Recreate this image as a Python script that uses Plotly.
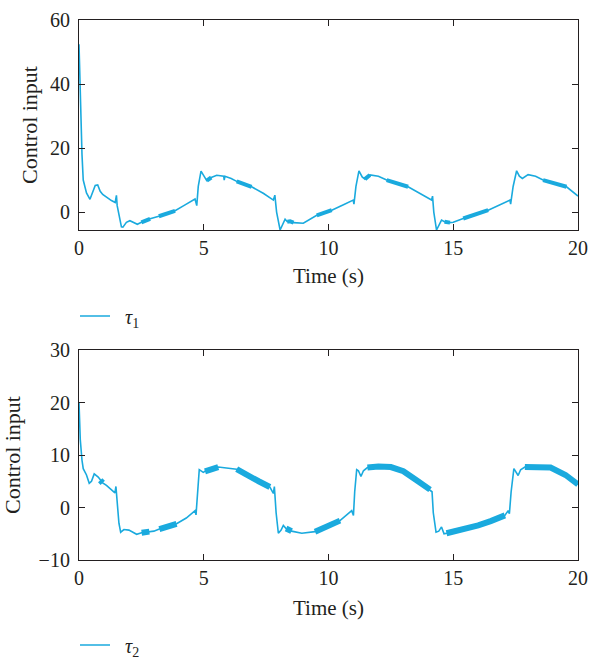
import plotly.graph_objects as go

# ---- data: tau_1 ----
t1 = [0, 0.05, 0.12, 0.17, 0.3, 0.44, 0.55, 0.65, 0.75, 0.85, 0.95, 1.1, 1.3, 1.45, 1.5, 1.53, 1.62, 1.7,
      1.76, 1.9, 2.04, 2.2, 2.34, 2.5, 2.85, 3.2, 3.85, 4.2, 4.65, 4.72, 4.78, 4.89, 5.0, 5.12, 5.3, 5.52,
      5.8, 5.82, 5.85, 6.1, 6.32, 6.92, 7.4, 7.79, 7.85, 7.92, 8.06, 8.18, 8.26, 8.35, 8.46, 8.6, 8.99,
      9.53, 10.13, 10.6, 10.99, 11.02, 11.1, 11.22, 11.35, 11.46, 11.6, 11.66, 12.0, 12.33, 13.19, 13.7,
      14.13, 14.17, 14.22, 14.33, 14.45, 14.53, 14.65, 14.87, 15.0, 15.4, 16.4, 16.9, 17.27, 17.3, 17.4,
      17.54, 17.65, 17.77, 18.0, 18.3, 18.6, 19.54, 20.0]
u1 = [52.4, 35, 18, 10, 6, 4, 6, 8.3, 8.5, 6.5, 5.5, 4.6, 3.6, 3.0, 5.2, 2, -2, -4.6,
      -4.7, -3.2, -2.7, -3.3, -3.8, -3.2, -2.1, -1.3, 0.4, 2.0, 4.1, 2.0, 8, 12.8, 11.5, 9.8, 10.8, 11.5,
      11.2, 10.0, 11.2, 10.5, 9.6, 7.9, 5.8, 3.75, 5.3, 0, -5.6, -3.5, -2.2, -3.0, -2.9, -3.3, -3.5,
      -1.0, 0.6, 2.3, 3.75, 2.5, 8, 12.9, 11, 10.3, 11.4, 11.6, 11.2, 10.0, 7.9, 5.6,
      3.75, 5.0, 0, -5.6, -3.5, -2.5, -3.0, -3.3, -3.2, -2.0, 0.6, 2.4, 3.75, 2.5, 8,
      12.9, 11.2, 10.5, 11.7, 11.2, 10.0, 7.9, 5.0]
# chattering intervals of tau_1 (s)
bands1 = [(2.5, 2.85), (3.2, 3.85), (5.12, 5.3), (6.32, 6.92), (8.35, 8.6), (9.53, 10.13),
          (11.46, 11.66), (12.33, 13.19), (14.65, 14.87), (15.4, 16.4), (18.6, 19.54)]

# ---- data: tau_2 ----
t2 = [0, 0.05, 0.12, 0.17, 0.3, 0.41, 0.5, 0.61, 0.77, 0.85, 0.91, 0.95, 1.1, 1.3, 1.44, 1.48, 1.52, 1.6,
      1.67, 1.8, 2.0, 2.31, 2.51, 2.82, 3.0, 3.22, 3.91, 4.3, 4.65, 4.69, 4.75, 4.82, 4.98, 5.05, 5.58,
      5.76, 6.32, 6.8, 7.2, 7.65, 7.79, 7.83, 7.9, 7.99, 8.1, 8.19, 8.3, 8.52, 8.93, 9.46, 10.0, 10.46,
      10.93, 11.0, 11.05, 11.13, 11.2, 11.3, 11.4, 11.56, 12.0, 12.5, 13.0, 13.5, 14.07, 14.15, 14.2,
      14.31, 14.42, 14.53, 14.63, 14.73, 15.0, 15.5, 16.0, 16.5, 17.07, 17.2, 17.25, 17.32, 17.43, 17.52,
      17.6, 17.7, 17.87, 18.5, 18.9, 19.5, 20.0]
u2 = [20, 13, 9, 7.4, 6.2, 4.6, 5.0, 6.4, 5.8, 5.2, 4.8, 4.7, 4.2, 3.3, 2.8, 4.0, 1, -3,
      -4.7, -4.2, -4.3, -5.1, -4.8, -4.6, -4.5, -4.1, -3.1, -2.0, -0.6, -1.4, 3, 7.2, 6.7, 6.9, 7.7,
      7.6, 7.3, 6.2, 5.0, 3.9, 2.7, 4.0, -1, -4.9, -4.3, -3.4, -4.0, -4.5, -4.9, -4.6, -3.6, -2.5,
      -0.6, -1.5, 3, 7.2, 7.0, 5.9, 7.0, 7.6, 7.8, 7.7, 6.9, 5.3, 3.4, 3.0, -1,
      -4.7, -4.5, -3.7, -5.0, -4.9, -4.6, -4.2, -3.4, -2.6, -1.5, -0.6, -1.2, 3, 7.4, 6.8,
      6.1, 7.2, 7.7, 7.8, 7.6, 6.2, 4.4]
bands2 = [(0.85, 0.95), (2.51, 2.82), (3.22, 3.91), (5.05, 5.58), (6.32, 7.65), (8.3, 8.52),
          (9.46, 10.46), (11.56, 14.07), (14.73, 17.07), (17.87, 20.0)]

x_ticks = [0, 5, 10, 15, 20]
y1_ticks = [0, 20, 40, 60]
y2_ticks = [-10, 0, 10, 20, 30]

COLOR = "#1aaade"
FONT = "Liberation Serif"
AX = "#231f20"

fig = go.Figure()


def add_series(t, u, bands, xa, ya, name, legend, bw):
    fig.add_trace(go.Scatter(x=t, y=u, mode="lines", line=dict(color=COLOR, width=1.6),
                             name=name, xaxis=xa, yaxis=ya, legend=legend, showlegend=True))
    for (a, b) in bands:
        bt = [tt for tt in t if a <= tt <= b]
        bu = [uu for tt, uu in zip(t, u) if a <= tt <= b]
        fig.add_trace(go.Scatter(x=bt, y=bu, mode="lines", line=dict(color=COLOR, width=bw),
                                 xaxis=xa, yaxis=ya, showlegend=False, hoverinfo="skip"))


add_series(t1, u1, bands1, "x", "y", "\u2002<i>τ</i><sub>1</sub>", "legend", 4)
add_series(t2, u2, bands2, "x2", "y2", "\u2002<i>τ</i><sub>2</sub>", "legend2", 6)

W, H = 589, 661


def px_x(p):
    return p / W


def px_y(p):
    return (H - p) / H


xd = [px_x(79), px_x(578)]
axis_common = dict(showline=True, linecolor=AX, linewidth=1.2, mirror="ticks", ticks="inside",
                   ticklen=6, tickcolor=AX, tickwidth=1.2, showgrid=False, zeroline=False,
                   automargin=False, ticklabeloverflow="allow",
                   tickfont=dict(family=FONT, size=20, color=AX))
xfont = dict(family=FONT, size=21, color=AX)
yfont = dict(family=FONT, size=22, color=AX)

fig.update_layout(
    width=W, height=H, margin=dict(l=0, r=0, t=0, b=0, autoexpand=False),
    paper_bgcolor="white", plot_bgcolor="white",
    font=dict(family=FONT, size=19, color=AX),
    xaxis=dict(domain=xd, range=[0, 20], tickvals=x_ticks, anchor="y", ticklabelstandoff=0,
               title=dict(text="Time (s)", standoff=10, font=xfont), **axis_common),
    yaxis=dict(domain=[px_y(230), px_y(20)], range=[-5.6, 60], tickvals=y1_ticks, anchor="x",
               ticklabelstandoff=4,
               title=dict(text="Control input", standoff=6, font=yfont), **axis_common),
    xaxis2=dict(domain=xd, range=[0, 20], tickvals=x_ticks, anchor="y2", ticklabelstandoff=0,
                title=dict(text="Time (s)", standoff=12, font=xfont), **axis_common),
    yaxis2=dict(domain=[px_y(560), px_y(350)], range=[-10, 30], tickvals=y2_ticks, anchor="x2",
                tickformat="d", ticklabelstandoff=4,
                title=dict(text="Control input", standoff=17, font=yfont), **axis_common),
    legend=dict(x=px_x(75), y=px_y(316), xanchor="left", yanchor="middle", bgcolor="rgba(0,0,0,0)",
                font=dict(family=FONT, size=20, color=AX)),
    legend2=dict(x=px_x(75), y=px_y(645), xanchor="left", yanchor="middle", bgcolor="rgba(0,0,0,0)",
                 font=dict(family=FONT, size=20, color=AX)),
)

fig.write_html("out.html", config={"displayModeBar": False},
               post_script="document.body.style.margin='0px';")
